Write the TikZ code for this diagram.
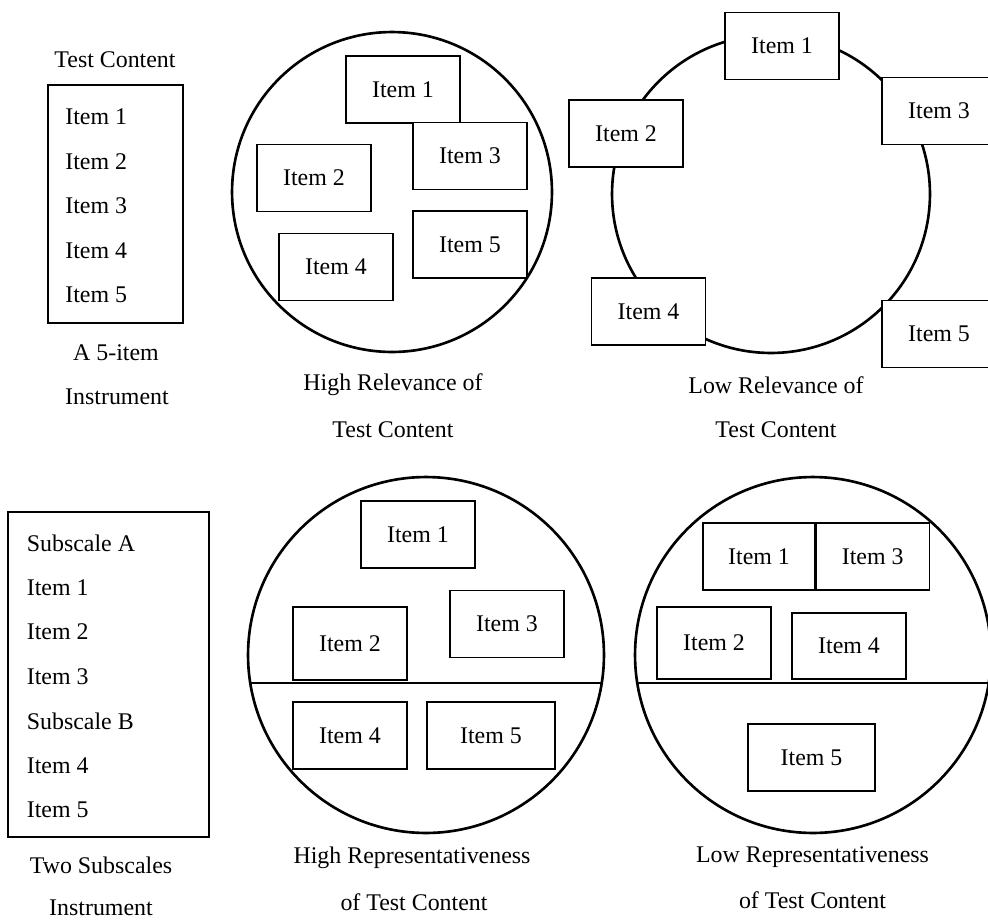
\documentclass[tikz,border=0pt]{standalone}
\usepackage{fontspec}
\setmainfont{Liberation Serif}

\tikzset{
  itembox/.style={draw, line width=0.7pt, fill=white, inner sep=0pt,
    minimum width=2.28cm, minimum height=1.34cm},
  ring/.style={draw, circle, line width=1.5pt, inner sep=0pt, outer sep=0pt},
  listbox/.style={draw, line width=0.7pt, inner sep=0pt},
  entry/.style={anchor=west, inner sep=0pt},
  caption/.style={inner sep=0pt},
  divider/.style={line width=0.8pt}
}

\begin{document}
\begin{tikzpicture}[x=0.02cm, y=-0.02cm, font=\fontsize{13.6}{16}\selectfont]
  \useasboundingbox (0,0) rectangle (988,920);

  % 5-item instrument
  \node[caption] (head) at (115,60) {Test Content};
  \node[listbox, minimum width=2.7cm, minimum height=4.76cm] (inst) at (115.5,204) {};
  \foreach \i/\y in {1/117, 2/162, 3/206, 4/251, 5/295}
    \node[entry] (inst\i) at (65,\y) {Item \i};
  \node[caption] (instcapA) at (116,353) {A 5-item};
  \node[caption] (instcapB) at (117,397) {Instrument};

  % high relevance
  \node[ring, minimum size=6.4cm] (hrel) at (392,192) {};
  \node[itembox] (hrel1) at (403,89.5) {Item 1};
  \node[itembox] (hrel3) at (470,156) {Item 3};
  \node[itembox] (hrel2) at (314,178) {Item 2};
  \node[itembox] (hrel5) at (470,244.5) {Item 5};
  \node[itembox] (hrel4) at (336,267) {Item 4};
  \node[caption] (hrelcapA) at (393,385) {High Relevance of};
  \node[caption] (hrelcapB) at (393,430) {Test Content};

  % low relevance
  \node[ring, minimum size=6.36cm] (lrel) at (771,194) {};
  \node[itembox] (lrel1) at (782,46) {Item 1};
  \node[itembox] (lrel3) at (939,111) {Item 3};
  \node[itembox] (lrel2) at (626,133.5) {Item 2};
  \node[itembox] (lrel4) at (648.5,311.5) {Item 4};
  \node[itembox] (lrel5) at (939,334) {Item 5};
  \node[caption] (lrelcapA) at (776,385) {Low Relevance of};
  \node[caption] (lrelcapB) at (776,430) {Test Content};

  % two subscales instrument
  \node[listbox, minimum width=4.02cm, minimum height=6.5cm] (subs) at (108.5,674.5) {};
  \foreach \t/\y [count=\n] in {Subscale A/543, Item 1/588, Item 2/632, Item 3/677,
      Subscale B/721, Item 4/766, Item 5/810}
    \node[entry] (subs\n) at (26.5,\y) {\t};
  \node[caption] (subscapA) at (101,865) {Two Subscales};
  \node[caption] (subscapB) at (101,908) {Instrument};

  % high representativeness
  \node[ring, minimum size=7.12cm] (hrep) at (426,655) {};
  \draw[divider] (hrep.189.05) -- (hrep.-9.05);
  \node[itembox] (hrep1) at (418,534.5) {Item 1};
  \node[itembox, minimum height=1.46cm] (hrep2) at (350,643.5) {Item 2};
  \node[itembox] (hrep3) at (507,624) {Item 3};
  \node[itembox] (hrep4) at (350,735.5) {Item 4};
  \node[itembox, minimum width=2.56cm] (hrep5) at (491,735.5) {Item 5};
  \node[caption] (hrepcapA) at (412,858) {High Representativeness};
  \node[caption] (hrepcapB) at (414,902) {of Test Content};

  % low representativeness
  \node[ring, minimum size=7.12cm] (lrep) at (813,655) {};
  \draw[divider] (lrep.189.05) -- (lrep.-9.05);
  \node[itembox, minimum width=2.24cm] (lrep1) at (759,556.5) {Item 1};
  \node[itembox, minimum width=2.26cm, anchor=west] (lrep3) at (lrep1.east) {Item 3};
  \node[itembox, minimum height=1.44cm] (lrep2) at (714,643) {Item 2};
  \node[itembox, minimum height=1.32cm] (lrep4) at (849,646) {Item 4};
  \node[itembox, minimum width=2.54cm] (lrep5) at (811.5,757.5) {Item 5};
  \node[caption] (lrepcapA) at (812.5,857) {Low Representativeness};
  \node[caption] (lrepcapB) at (812.5,900) {of Test Content};
\end{tikzpicture}
\end{document}
